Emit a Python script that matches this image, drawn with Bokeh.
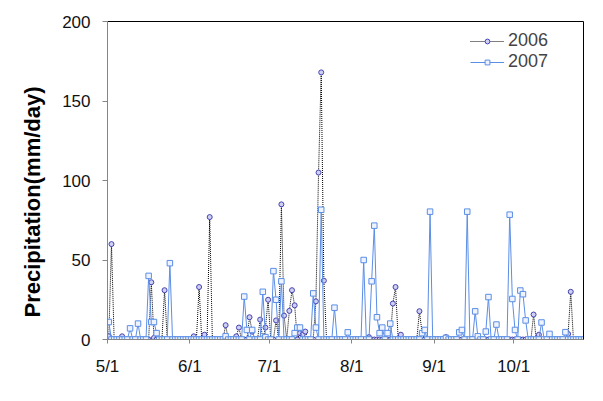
import math
from bokeh.plotting import figure
from bokeh.models import FixedTicker, LinearAxis, Title, Legend, LegendItem, Range1d
from bokeh.embed import file_html
from bokeh.resources import INLINE

# Day index 0 = May 1
days = list(range(180))

precip_2006 = [
    2, 60, 0, 0, 0, 2, 0, 0, 0, 0,
    0, 0, 0, 0, 0, 0, 36, 1, 0, 0,
    0, 31, 0, 0, 0, 0, 0, 0, 0, 0,
    0, 0, 2, 0, 33, 0, 3, 0, 77, 0,
    0, 0, 0, 0, 9, 0, 0, 0, 2, 7.5,
    0, 0, 0, 14, 5, 0, 0, 12.5, 0, 7.5,
    25, 0, 0, 12, 0, 85, 15, 0, 18, 31,
    21.5, 0, 4, 3, 5, 0, 0, 0, 24, 105,
    168, 37, 0, 0, 0, 0, 0, 0, 0, 0,
    0, 0, 0, 0, 0, 0, 0, 0, 1.5, 0,
    0, 0, 0, 0, 0, 0, 0, 22.6, 33, 0,
    3, 0, 0, 0, 0, 0, 0, 17.8, 4, 0,
    0, 0, 0, 0, 0, 0, 0, 1.5, 0, 0,
    0, 0, 0, 0, 0, 0, 0, 0, 0, 0,
    0, 0, 0, 0, 0, 0, 0, 0, 0, 0,
    0, 0, 0, 0, 0, 0, 0, 0, 0, 0,
    15.7, 0, 3, 0, 0, 0, 0, 0, 0, 0,
    0, 0, 0, 3.5, 30, 0, 0, 0, 0, 0,
]

precip_2007 = [
    11, 0, 0, 0, 0, 0, 0, 0, 7, 0,
    0, 10, 0, 0, 0, 40, 11, 11, 4, 0,
    0, 0, 0, 48, 0, 0, 0, 0, 0, 0,
    0, 0, 0, 0, 0, 0, 0, 0, 0, 0,
    0, 0, 0, 0, 2, 0, 0, 0, 0, 0,
    0, 27, 6, 0, 6, 0, 0, 0, 30, 1.5,
    0, 0, 43, 25, 0, 36.6, 0, 0, 0, 0,
    4, 7.5, 7.5, 0, 0, 0, 0, 29, 7.5, 0,
    81.6, 0, 0, 0, 0, 20, 0, 0, 0, 0,
    4.5, 0, 0, 0, 0, 0, 50, 0, 0, 36.6,
    71.6, 14, 4, 7.5, 0, 4, 10, 0, 0, 0,
    0, 0, 0, 0, 0, 0, 0, 0, 4, 6,
    0, 80.4, 0, 0, 0, 0, 0, 1, 0, 0,
    0, 0, 4.5, 6, 0, 80.4, 0, 0, 17.7, 2,
    0, 0, 5, 26.7, 0, 0, 9.4, 0, 0, 0,
    0, 78.5, 25.5, 6, 0, 30.8, 28.5, 12, 0, 0,
    0, 0, 0, 10.7, 0, 0, 3.5, 0, 0, 0,
    0, 0, 4.6, 0, 0, 0, 0, 0, 0, 0,
]

month_start_days = [0, 31, 61, 92, 123, 153]
tick_labels = ["5/1", "6/1", "7/1", "8/1", "9/1", "10/1"]
y_ticks = [0, 50, 100, 150, 200]

FONT = "Liberation Sans"
AXIS_GRAY = "#868686"

p = figure(width=603, height=401, output_backend="svg", toolbar_location=None,
           x_range=Range1d(-0.5, 178.8), y_range=Range1d(0, 200),
           min_border_left=107, min_border_right=20,
           min_border_top=21, min_border_bottom=62)
p.xgrid.visible = False
p.ygrid.visible = False
p.outline_line_color = None
p.background_fill_color = "white"
p.border_fill_color = "white"

r06_line = p.line(days, precip_2006, line_color="black", line_dash="1 1", line_width=1)
r06_pts = p.scatter(days, precip_2006, marker="circle", size=5,
                    line_color="#4444b0", fill_color="#d0d0f4", line_width=1)
r07_line = p.line(days, precip_2007, line_color="#5b8ee6", line_width=1)
r07_pts = p.scatter(days, precip_2007, marker="square", size=5.5,
                    line_color="#5b8ee6", fill_color="#eef3fd", line_width=1)

tick_pos = [d - 0.5 for d in month_start_days]
p.xaxis.ticker = FixedTicker(ticks=tick_pos)
p.xaxis.major_label_overrides = {t: lab for t, lab in zip(tick_pos, tick_labels)}
p.yaxis.ticker = FixedTicker(ticks=y_ticks)

for ax in (p.xaxis, p.yaxis):
    ax.axis_line_color = AXIS_GRAY
    ax.major_tick_line_color = AXIS_GRAY
    ax.minor_tick_line_color = None
    ax.major_tick_in = 0
    ax.major_label_text_font = FONT
    ax.major_label_text_font_size = "17px"
    ax.major_label_text_color = "#111111"
p.xaxis.major_tick_out = 4
p.yaxis.major_tick_out = 5
p.xaxis.major_label_standoff = 13
p.yaxis.major_label_standoff = 12

for side in ("above", "right"):
    ax = LinearAxis(ticker=FixedTicker(ticks=[]), axis_line_color="black",
                    major_tick_line_color=None, minor_tick_line_color=None,
                    major_label_text_font_size="0px")
    p.add_layout(ax, side)

ylabel = Title(text="Precipitation(mm/day)", align="left", offset=22,
               standoff=29, text_font=FONT, text_font_style="bold",
               text_font_size="22px", text_color="black")
p.add_layout(ylabel, "left")

legend = Legend(items=[LegendItem(label="2006", renderers=[r06_line, r06_pts]),
                       LegendItem(label="2007", renderers=[r07_line, r07_pts])],
                location=(363, 267), border_line_color=None, background_fill_alpha=0,
                glyph_width=34, glyph_height=12, label_height=21, spacing=0,
                padding=0, margin=0, label_standoff=4,
                label_text_font=FONT, label_text_font_size="18px")
p.add_layout(legend)

open("out.html", "w").write(file_html(p, INLINE))
